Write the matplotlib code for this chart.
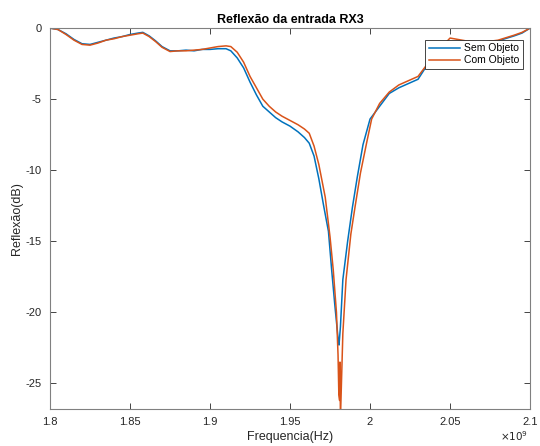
import matplotlib
matplotlib.use("Agg")
import matplotlib.pyplot as plt
from matplotlib.ticker import FuncFormatter

plt.rcParams['font.family'] = ['Liberation Sans', 'DejaVu Sans']
plt.rcParams['axes.unicode_minus'] = False

# frequency in GHz, reflection in dB
freq_sem = [1.800, 1.805, 1.810, 1.815, 1.820, 1.825, 1.830, 1.835, 1.840, 1.845,
            1.850, 1.855, 1.858, 1.862, 1.866, 1.870, 1.875, 1.880, 1.885, 1.890,
            1.895, 1.900, 1.905, 1.910, 1.913, 1.917, 1.921, 1.925, 1.929, 1.933,
            1.937, 1.941, 1.945, 1.950, 1.955, 1.959, 1.962, 1.965, 1.968, 1.971,
            1.974, 1.976, 1.978, 1.980, 1.9806, 1.9815, 1.983, 1.986, 1.989, 1.992,
            1.9956, 2.000, 2.006, 2.012, 2.018, 2.024, 2.030, 2.034, 2.040, 2.045,
            2.050, 2.060, 2.070, 2.080, 2.090, 2.095, 2.100]
refl_sem = [0.0, -0.1, -0.4, -0.8, -1.1, -1.15, -1.0, -0.85, -0.7, -0.6,
            -0.45, -0.35, -0.3, -0.55, -0.9, -1.3, -1.6, -1.6, -1.55, -1.6,
            -1.5, -1.5, -1.45, -1.45, -1.6, -2.1, -2.8, -3.8, -4.7, -5.5,
            -5.9, -6.3, -6.6, -6.9, -7.3, -7.7, -8.1, -9.0, -10.6, -12.5,
            -14.3, -17.0, -19.5, -21.8, -22.3, -21.0, -17.7, -15.0, -12.6, -10.5,
            -8.2, -6.4, -5.5, -4.6, -4.2, -3.9, -3.6, -2.9, -2.0, -1.4,
            -1.0, -1.0, -1.1, -0.9, -0.55, -0.35, 0.0]

freq_com = [1.800, 1.805, 1.810, 1.815, 1.820, 1.825, 1.830, 1.835, 1.840, 1.845,
            1.850, 1.855, 1.858, 1.862, 1.866, 1.870, 1.875, 1.880, 1.885, 1.890,
            1.895, 1.900, 1.905, 1.910, 1.913, 1.917, 1.921, 1.925, 1.929, 1.933,
            1.937, 1.941, 1.945, 1.950, 1.955, 1.959, 1.962, 1.965, 1.968, 1.972,
            1.975, 1.977, 1.979, 1.980, 1.9805, 1.981, 1.9812, 1.9815, 1.983, 1.985,
            1.988, 1.9906, 1.994, 1.998, 2.001, 2.006, 2.012, 2.018, 2.024, 2.030,
            2.034, 2.040, 2.045, 2.050, 2.060, 2.070, 2.080, 2.090, 2.095, 2.100]
refl_com = [0.0, -0.1, -0.45, -0.85, -1.15, -1.2, -1.05, -0.85, -0.75, -0.6,
            -0.5, -0.4, -0.35, -0.6, -0.95, -1.35, -1.65, -1.6, -1.6, -1.55,
            -1.5, -1.4, -1.3, -1.25, -1.3, -1.7, -2.4, -3.4, -4.2, -5.0,
            -5.5, -5.9, -6.2, -6.5, -6.8, -7.1, -7.4, -8.3, -9.6, -11.9,
            -14.7, -17.0, -20.0, -23.0, -25.8, -26.2, -23.5, -27.5, -21.5, -17.7,
            -14.5, -12.6, -10.2, -8.0, -6.4, -5.3, -4.5, -4.0, -3.7, -3.4,
            -2.8, -1.9, -1.3, -0.7, -0.9, -1.0, -0.85, -0.5, -0.3, 0.0]

fig = plt.figure(figsize=(5.4, 4.46), dpi=100, facecolor=(1, 1, 1))
ax = fig.add_axes([0.0926, 0.083, 0.889, 0.854])

ax.plot([f * 1e9 for f in freq_sem], refl_sem, color="#0072BD", linewidth=1.1, label="Sem Objeto")
ax.plot([f * 1e9 for f in freq_com], refl_com, color="#D95319", linewidth=1.1, label="Com Objeto")

ax.set_xlim(1.8e9, 2.1e9)
ax.set_ylim(-26.8, 0)
ax.set_xticks([1.8e9, 1.85e9, 1.9e9, 1.95e9, 2.0e9, 2.05e9, 2.1e9])
ax.set_yticks([-25, -20, -15, -10, -5, 0])
ax.xaxis.set_major_formatter(FuncFormatter(lambda v, p: "%g" % (v / 1e9)))

gray = "#262626"
for s in ax.spines.values():
    s.set_color("#808080")
    s.set_linewidth(0.8)
ax.tick_params(direction="in", top=True, right=True, labelsize=8,
               colors=gray, length=4, width=0.6, pad=6)

ax.set_title("Reflexão da entrada RX3", fontsize=9, fontweight="bold", pad=4)
ax.set_xlabel("Frequencia(Hz)", fontsize=9, color=gray, labelpad=3)
ax.set_ylabel("Reflexão(dB)", fontsize=9, color=gray, labelpad=2)
ax.text(0.996, -0.07, r"$\times10^{9}$", transform=ax.transAxes, fontsize=7.5,
        color=gray, ha="right", va="center")

leg = ax.legend(loc="upper right", fontsize=7.5, handlelength=3.0, fancybox=False,
                framealpha=1, borderpad=0.35, labelspacing=0.2, handletextpad=0.4,
                borderaxespad=0, bbox_to_anchor=(0.985, 0.97))
leg.get_frame().set_edgecolor(gray)
leg.get_frame().set_linewidth(0.6)

plt.savefig("out.png", dpi=100)
plt.close()
